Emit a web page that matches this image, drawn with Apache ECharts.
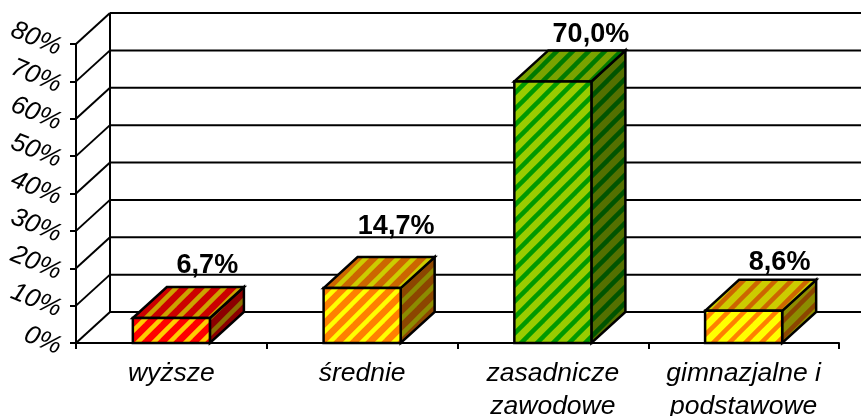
<!DOCTYPE html>
<html><head><meta charset="utf-8">
<style>html,body{margin:0;padding:0;background:#fff}#c{width:861px;height:416px}</style>
<script src="https://cdn.jsdelivr.net/npm/echarts@6/dist/echarts.min.js"></script>
</head><body><div id="c"></div>
<script>
const categories = ['wyższe', 'średnie', 'zasadnicze\nzawodowe', 'gimnazjalne i\npodstawowe'];
const values = [6.7, 14.7, 70.0, 8.6];
const valueLabels = ['6,7%', '14,7%', '70,0%', '8,6%'];
const yTicks = [0, 10, 20, 30, 40, 50, 60, 70, 80];

const baseColors = [[255,0,0],[255,128,0],[153,204,0],[255,255,0]];
const stripeColors = [[255,204,0],[255,255,0],[0,153,0],[255,128,0]];
const labelGaps = [21, 31, 16, 17];
const labelShifts = [2, 0, 4, 2];
const depthX = 34, depthY = -31, font = '"Liberation Sans", Arial, sans-serif';

function shade(c, k) { return 'rgb(' + c.map(v => Math.round(v * k)).join(',') + ')'; }
function pattern(bg, st, k) {
  const T = 16, cv = document.createElement('canvas');
  cv.width = T; cv.height = T;
  const g = cv.getContext('2d');
  g.fillStyle = shade(bg, k); g.fillRect(0, 0, T, T);
  g.strokeStyle = shade(st, k); g.lineWidth = 4.5;
  for (let o = -T; o <= T; o += T) {
    g.beginPath(); g.moveTo(o - 2, T + 2); g.lineTo(o + T + 2, -2); g.stroke();
  }
  return { image: cv, repeat: 'repeat' };
}

const chart = echarts.init(document.getElementById('c'), null, { renderer: 'canvas' });
const line = (x1, y1, x2, y2) => ({
  type: 'line', shape: { x1, y1, x2, y2 },
  style: { stroke: '#000', lineWidth: 2, fill: null }
});

chart.setOption({
  animation: false,
  backgroundColor: '#fff',
  grid: { left: 76, right: 22, top: 44, bottom: 73, containLabel: false, outerBoundsMode: 'none' },
  xAxis: {
    type: 'category', data: categories,
    axisLine: { show: true, lineStyle: { color: '#000', width: 2 } },
    axisTick: { show: true, length: 6, lineStyle: { color: '#000', width: 2 } },
    axisLabel: { color: '#000', fontFamily: font, fontStyle: 'italic', fontSize: 26.5, lineHeight: 33, margin: 14, interval: 0 }
  },
  yAxis: {
    type: 'value', min: 0, max: 80, interval: 10,
    splitLine: { show: false },
    axisLine: { show: true, lineStyle: { color: '#000', width: 2 } },
    axisTick: { show: true, length: 6, lineStyle: { color: '#000', width: 2 } },
    axisLabel: { color: '#000', fontFamily: font, fontStyle: 'italic', fontSize: 26, rotate: -22, margin: 14, verticalAlign: 'top', lineHeight: 10, formatter: '{value}%' }
  },
  series: [
    {
      type: 'custom', coordinateSystem: 'cartesian2d', silent: true, z: 1,
      data: yTicks.map(v => [0, v]),
      encode: { x: 0, y: 1 },
      renderItem(params, api) {
        const v = api.value(1);
        const x0 = params.coordSys.x, xMax = params.coordSys.x + params.coordSys.width;
        const y = api.coord([0, v])[1];
        const ch = [
          line(x0, y, x0 + depthX, y + depthY),
          line(x0 + depthX, y + depthY, xMax + depthX, y + depthY)
        ];
        if (v === 80) ch.push(line(x0 + depthX, y + depthY, x0 + depthX, params.coordSys.y + params.coordSys.height + depthY));
        return { type: 'group', children: ch };
      }
    },
    {
      type: 'custom', coordinateSystem: 'cartesian2d', silent: true, z: 3,
      data: values.map((v, i) => [i, v]),
      encode: { x: 0, y: 1 },
      renderItem(params, api) {
        const i = params.dataIndex;
        const top = api.coord([i, api.value(1)]), base = api.coord([i, 0]);
        const w = api.size([1, 0])[0] * 0.404;
        const l = top[0] - w / 2, r = top[0] + w / 2, t = top[1], b = base[1];
        const bg = baseColors[i], st = stripeColors[i];
        const stroke = { stroke: '#000', lineWidth: 2.5, lineJoin: 'miter' };
        return {
          type: 'group',
          children: [
            { type: 'polygon', shape: { points: [[r, t], [r + depthX, t + depthY], [r + depthX, b + depthY], [r, b]] },
              style: Object.assign({ fill: pattern(bg, st, 0.55) }, stroke) },
            { type: 'polygon', shape: { points: [[l, t], [l + depthX, t + depthY], [r + depthX, t + depthY], [r, t]] },
              style: Object.assign({ fill: pattern(bg, st, 0.8) }, stroke) },
            { type: 'polygon', shape: { points: [[l, t], [r, t], [r, b], [l, b]] },
              style: Object.assign({ fill: pattern(bg, st, 1) }, stroke) },
            { type: 'text', x: top[0] + depthX + labelShifts[i], y: t + depthY - labelGaps[i],
              style: { text: valueLabels[i], fill: '#000', font: 'bold 27px ' + font, align: 'center', verticalAlign: 'middle' } }
          ]
        };
      }
    }
  ]
});
</script></body></html>
